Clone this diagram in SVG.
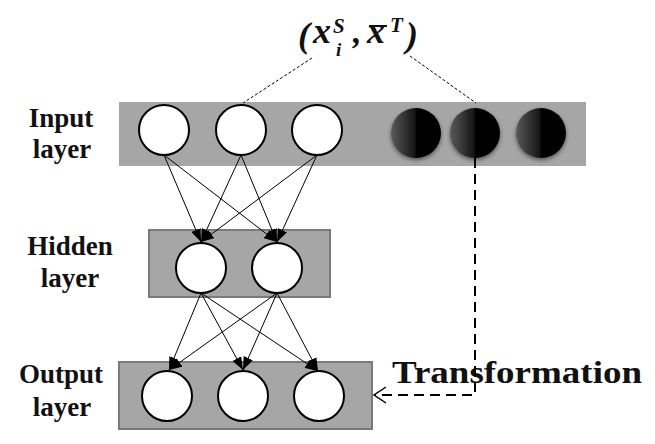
<svg xmlns="http://www.w3.org/2000/svg" width="655" height="444" viewBox="0 0 655 444">
<style>
.lbl{font-family:"Liberation Serif","Times New Roman",serif;font-weight:bold;font-size:27px;fill:#111;text-anchor:middle}
.math{font-family:"Liberation Serif","Times New Roman",serif;font-weight:bold;font-style:italic;fill:#111}
.wc{fill:#fff;stroke:#000;stroke-width:2}
.bc{fill:url(#dark);filter:url(#sh)}
.edge{stroke:#000;stroke-width:1;fill:none;marker-end:url(#ah)}
.dot{stroke:#000;stroke-width:1;stroke-dasharray:3,2;fill:none}
</style>
<defs>
<linearGradient id="dark" x1="0" y1="0" x2="1" y2="0">
<stop offset="0" stop-color="#5a5a5a"/>
<stop offset="0.48" stop-color="#151515"/>
<stop offset="0.52" stop-color="#000"/>
<stop offset="1" stop-color="#000"/>
</linearGradient>
<filter id="sh" x="-30%" y="-30%" width="160%" height="170%">
<feGaussianBlur in="SourceAlpha" stdDeviation="2"/>
<feOffset dy="2" result="b"/>
<feComponentTransfer><feFuncA type="linear" slope="0.5"/></feComponentTransfer>
<feMerge><feMergeNode/><feMergeNode in="SourceGraphic"/></feMerge>
</filter>
<marker id="ah" markerUnits="userSpaceOnUse" markerWidth="13" markerHeight="10" refX="13" refY="5" orient="auto">
<path d="M0,0 L13,5 L0,10 z" fill="#000"/>
</marker>
<marker id="oa" markerUnits="userSpaceOnUse" markerWidth="14" markerHeight="18" refX="13" refY="9" orient="auto">
<path d="M1,1 L13,9 L1,17" fill="none" stroke="#000" stroke-width="1.5"/>
</marker>
</defs>

<g id="input-layer">
<rect x="119" y="102" width="467" height="64" fill="#a6a6a6"/>
<text class="lbl" x="61" y="127" font-family="Liberation Serif, serif">Input</text>
<text class="lbl" x="62" y="158" font-family="Liberation Serif, serif">layer</text>
</g>
<g id="in1"><circle class="wc" cx="164" cy="130" r="25"/></g>
<g id="in2"><circle class="wc" cx="241" cy="130" r="25"/></g>
<g id="in3"><circle class="wc" cx="317" cy="130" r="25"/></g>
<g id="in4"><circle class="bc" cx="416" cy="133" r="25"/></g>
<g id="in5"><circle class="bc" cx="475" cy="133" r="25"/></g>
<g id="in6"><circle class="bc" cx="541" cy="133" r="25"/></g>

<g id="hidden-layer">
<rect x="149" y="230" width="181" height="67" fill="#a6a6a6" stroke="#7a7a7a" stroke-width="2"/>
<text class="lbl" x="70" y="255" font-family="Liberation Serif, serif">Hidden</text>
<text class="lbl" x="70" y="287" font-family="Liberation Serif, serif">layer</text>
</g>
<g id="h1"><circle class="wc" cx="201" cy="268" r="25"/></g>
<g id="h2"><circle class="wc" cx="277" cy="268" r="25"/></g>

<g id="output-layer">
<rect x="119" y="362" width="253" height="67" fill="#a6a6a6" stroke="#7a7a7a" stroke-width="2"/>
<text class="lbl" x="61" y="383" font-family="Liberation Serif, serif">Output</text>
<text class="lbl" x="62" y="416" font-family="Liberation Serif, serif">layer</text>
</g>
<g id="o1"><circle class="wc" cx="167" cy="396" r="25"/></g>
<g id="o2"><circle class="wc" cx="243" cy="396" r="25"/></g>
<g id="o3"><circle class="wc" cx="319" cy="396" r="25"/></g>

<g id="formula">
<text class="math" x="298" y="47" font-size="36" font-style="normal">(</text>
<text class="math" x="313" y="43" font-size="36">x</text>
<text class="math" x="333" y="33" font-size="21">S</text>
<text class="math" x="336" y="56" font-size="19">i</text>
<text class="math" x="353" y="43" font-size="34">,</text>
<text class="math" x="367" y="43" font-size="36">x</text>
<line x1="369" y1="26" x2="387" y2="26" stroke="#111" stroke-width="2"/>
<text class="math" x="390" y="32" font-size="21">T</text>
<text class="math" x="406" y="47" font-size="36" font-style="normal">)</text>
</g>

<g id="transformation-label">
<text x="392" y="383" font-family="Liberation Serif, serif" font-weight="bold" font-size="32" fill="#111" textLength="250" lengthAdjust="spacingAndGlyphs">Transformation</text>
</g>

<g id="connectors">
<line class="dot" x1="312" y1="58" x2="243" y2="103"/>
<line class="dot" x1="410" y1="56" x2="476" y2="103"/>
<line class="edge" x1="164" y1="155" x2="201" y2="242"/>
<line class="edge" x1="164" y1="155" x2="277" y2="242"/>
<line class="edge" x1="241" y1="155" x2="201" y2="242"/>
<line class="edge" x1="241" y1="155" x2="277" y2="242"/>
<line class="edge" x1="317" y1="155" x2="201" y2="242"/>
<line class="edge" x1="317" y1="155" x2="277" y2="242"/>
<line class="edge" x1="201" y1="293" x2="169" y2="370"/>
<line class="edge" x1="201" y1="293" x2="243" y2="370"/>
<line class="edge" x1="201" y1="293" x2="318" y2="371"/>
<line class="edge" x1="277" y1="293" x2="169" y2="370"/>
<line class="edge" x1="277" y1="293" x2="243" y2="370"/>
<line class="edge" x1="277" y1="293" x2="318" y2="371"/>
<path d="M475,158 V395 H374" fill="none" stroke="#000" stroke-width="2" stroke-dasharray="10,6" marker-end="url(#oa)"/>
</g>
</svg>
